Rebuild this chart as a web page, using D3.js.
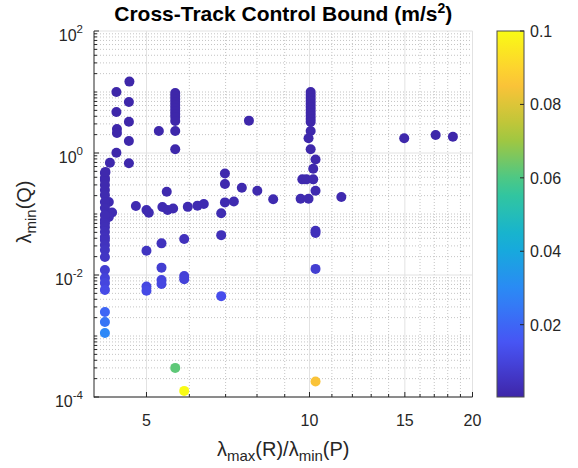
<!DOCTYPE html>
<html><head><meta charset="utf-8">
<script src="https://cdn.jsdelivr.net/npm/d3@7"></script>
<style>body{margin:0;background:#fff} svg{display:block}</style>
</head><body><svg id="c" width="578" height="468"></svg>
<script>
// ---- data ----
const ratioVals = [
  // left column
  4.19,4.19,4.19,4.19,4.19,4.19,4.26,4.19,4.19,4.32,4.26,4.19,4.19,4.19,4.19,4.19,4.19,4.19,4.19,4.19,4.19,4.19,4.19,4.19,4.19,4.19,4.19,4.19,
  // upper-left diagonal
  4.20,4.28,4.40,4.64,4.64,4.41,4.41,4.64,4.40,4.64,4.40,4.65,
  // column near 5.65
  5.65,5.65,5.65,5.65,5.65,5.65,5.65,5.65,5.65,5.65,5.65,5.27,5.65,
  // middle row
  4.78,5.00,5.05,5.45,5.35,5.47,5.60,5.96,6.21,6.38,6.87,6.98,6.98,6.98,7.25,7.50,8.01,8.57,9.63,9.96,7.73,
  // lower group
  5.87,5.33,5.00,5.33,5.33,5.33,5.87,5.87,5.00,5.00,6.87,6.87,5.65,5.87,10.26,
  // column near 10
  10.05,10.05,10.05,10.05,10.05,10.05,10.05,10.05,10.05,10.05,10.05,10.05,9.96,10.05,10.26,10.16,9.70,9.87,10.16,10.26,11.45,10.26,10.26,10.26,
  // far right
  14.96,17.1,18.4
];
const lambdaQVals = [
  0.47,0.39,0.36,0.30,0.247,0.205,0.157,0.157,0.125,0.106,0.089,0.080,0.096,0.071,0.0615,0.051,0.042,0.0375,0.031,0.0257,0.0197,0.0121,0.0089,0.0074,0.0057,0.00247,0.0017,0.00112,
  0.49,0.69,1.01,0.68,1.57,2.47,2.13,3.26,4.7,6.86,10.0,14.8,
  9.6,8.6,7.67,6.85,6.12,5.47,4.89,4.36,3.89,3.35,2.3,2.3,1.15,
  0.135,0.116,0.105,0.232,0.13,0.116,0.123,0.131,0.137,0.146,0.103,0.46,0.31,0.155,0.16,0.27,0.24,0.174,0.178,0.178,3.39,
  0.039,0.033,0.025,0.0132,0.0083,0.0071,0.0096,0.0085,0.0065,0.0055,0.045,0.0045,0.0003,0.000126,0.00018,
  10.0,8.93,7.97,7.11,6.35,5.68,5.07,4.53,4.04,3.61,3.22,2.3,1.74,1.15,0.78,0.55,0.37,0.37,0.37,0.24,0.19,0.053,0.049,0.0126,
  1.74,1.97,1.85
];
const boundVals = [
  0.0012,0.0013,0.0014,0.0015,0.0016,0.0018,0.002,0.002,0.0022,0.0023,0.0025,0.0027,0.0025,0.003,0.0032,0.0035,0.004,0.004,0.0045,0.005,0.0055,0.008,0.0095,0.0105,0.012,0.02,0.024,0.029,
  0.0012,0.001,0.0009,0.001,0.0008,0.0007,0.0007,0.0007,0.0006,0.0006,0.0005,0.0005,
  0.0005,0.0005,0.0005,0.0005,0.0005,0.0006,0.0006,0.0006,0.0006,0.0007,0.0008,0.0008,0.0009,
  0.002,0.002,0.002,0.0015,0.002,0.002,0.002,0.002,0.002,0.002,0.0022,0.0012,0.0014,0.0018,0.0018,0.0015,0.0015,0.0018,0.0018,0.0018,0.0006,
  0.004,0.0042,0.005,0.008,0.01,0.011,0.009,0.0095,0.011,0.012,0.0035,0.013,0.062,0.1,0.085,
  0.0005,0.0005,0.0005,0.0005,0.0005,0.0006,0.0006,0.0006,0.0006,0.0007,0.0007,0.0008,0.0009,0.0009,0.0011,0.0012,0.0014,0.0014,0.0014,0.0016,0.0017,0.0035,0.0036,0.008,
  0.0008,0.0007,0.0007
];
const xTickVals = [5, 10, 15, 20];
const yTickExps = [-4, -2, 0, 2];
const cTickVals = [0.02, 0.04, 0.06, 0.08, 0.1];
const parulaStops = ["#3e26a8","#4852f4","#2d87f7","#12b1d6","#37c897","#abc739","#fec338","#f9fb15"];

// ---- layout ----
const L = 94, R = 472.5, T = 31, B = 397;
const svg = d3.select("#c");
const font = "'Liberation Sans', Arial, Helvetica, sans-serif";
const ink = "#262626";

const x = d3.scaleLog().domain([4, 20]).range([L, R]);
const y = d3.scaleLog().domain([1e-4, 1e2]).range([B, T]);
const cDomain = [0.0003, 0.1];
const color = d3.scaleSequential(d3.piecewise(d3.interpolateRgb, parulaStops)).domain(cDomain);

// grid
const xMinor = d3.range(6, 20).filter(v => !xTickVals.includes(v));
const yMajor = yTickExps.map(e => Math.pow(10, e));
const yMinor = [];
for (let k = -4; k < 2; k++) for (let m = 1; m <= 9; m++) {
  const v = m * Math.pow(10, k);
  if (!yMajor.some(t => Math.abs(t - v) / v < 1e-9)) yMinor.push(v);
}
const g = svg.append("g");
g.selectAll(".xmin").data(xMinor).join("line")
  .attr("x1", d => x(d)).attr("x2", d => x(d)).attr("y1", T).attr("y2", B)
  .attr("stroke", "#c4c4c4").attr("stroke-width", 1).attr("stroke-dasharray", "1,2");
g.selectAll(".ymin").data(yMinor).join("line")
  .attr("y1", d => y(d)).attr("y2", d => y(d)).attr("x1", L).attr("x2", R)
  .attr("stroke", "#c4c4c4").attr("stroke-width", 1).attr("stroke-dasharray", "1,2");
g.selectAll(".xmaj").data(xTickVals).join("line")
  .attr("x1", d => x(d)).attr("x2", d => x(d)).attr("y1", T).attr("y2", B)
  .attr("stroke", "#e2e2e2").attr("stroke-width", 1);
g.selectAll(".ymaj").data(yMajor).join("line")
  .attr("y1", d => y(d)).attr("y2", d => y(d)).attr("x1", L).attr("x2", R)
  .attr("stroke", "#e2e2e2").attr("stroke-width", 1);

// points
const pts = ratioVals.map((v, i) => ({x: v, y: lambdaQVals[i], c: boundVals[i]}));
svg.append("g").selectAll("circle").data(pts).join("circle")
  .attr("cx", d => x(d.x)).attr("cy", d => y(d.y)).attr("r", 5)
  .attr("fill", d => color(d.c));

// axes lines
const ax = svg.append("g").attr("stroke", ink).attr("stroke-width", 1);
ax.append("line").attr("x1", L).attr("x2", L).attr("y1", T).attr("y2", B + 0.5);
ax.append("line").attr("x1", L).attr("x2", R).attr("y1", B).attr("y2", B);
ax.selectAll(".xt").data(xTickVals).join("line")
  .attr("x1", d => x(d)).attr("x2", d => x(d)).attr("y1", B).attr("y2", B - 5);
ax.selectAll(".xtm").data(xMinor).join("line")
  .attr("x1", d => x(d)).attr("x2", d => x(d)).attr("y1", B).attr("y2", B - 3);
ax.selectAll(".yt").data(yMajor).join("line")
  .attr("y1", d => y(d)).attr("y2", d => y(d)).attr("x1", L).attr("x2", L + 5);
ax.selectAll(".ytm").data(yMinor).join("line")
  .attr("y1", d => y(d)).attr("y2", d => y(d)).attr("x1", L).attr("x2", L + 3);

// tick labels
svg.append("g").selectAll("text").data(xTickVals).join("text")
  .attr("x", d => x(d)).attr("y", 426).attr("text-anchor", "middle")
  .attr("font-family", font).attr("font-size", 16).attr("fill", ink)
  .text(d => d);
const yl = svg.append("g").selectAll("text").data(yTickExps).join("text")
  .attr("x", 83).attr("y", d => y(Math.pow(10, d)) + 10).attr("text-anchor", "end")
  .attr("font-family", font).attr("font-size", 16).attr("fill", ink);
yl.append("tspan").text("10");
yl.append("tspan").attr("dy", -8).attr("font-size", 11.5).text(d => d);

// axis labels
const xlab = svg.append("text").attr("x", (L + R) / 2).attr("y", 456).attr("text-anchor", "middle")
  .attr("font-family", font).attr("font-size", 20).attr("fill", ink);
xlab.append("tspan").text("λ");
xlab.append("tspan").attr("dy", 5).attr("font-size", 15).text("max");
xlab.append("tspan").attr("dy", -5).text("(R)/λ");
xlab.append("tspan").attr("dy", 5).attr("font-size", 15).text("min");
xlab.append("tspan").attr("dy", -5).text("(P)");

const ylab = svg.append("text").attr("transform", `translate(31,${(T + B) / 2 - 2}) rotate(-90)`)
  .attr("text-anchor", "middle").attr("font-family", font).attr("font-size", 20).attr("fill", ink);
ylab.append("tspan").text("λ");
ylab.append("tspan").attr("dy", 5).attr("font-size", 15).text("min");
ylab.append("tspan").attr("dy", -5).text("(Q)");

// title
const title = svg.append("text").attr("x", (L + R) / 2).attr("y", 21).attr("text-anchor", "middle")
  .attr("font-family", font).attr("font-size", 21).attr("font-weight", "bold").attr("fill", "#000");
title.append("tspan").text("Cross-Track Control Bound (m/s");
title.append("tspan").attr("dy", -8).attr("font-size", 14).text("2");
title.append("tspan").attr("dy", 8).text(")");

// colorbar
const CL = 497, CR = 524;
const cy = d3.scaleLinear().domain(cDomain).range([B, T]);
const defs = svg.append("defs");
const grad = defs.append("linearGradient").attr("id", "cbg").attr("x1", 0).attr("x2", 0).attr("y1", 1).attr("y2", 0);
d3.range(0, 1.0001, 0.05).forEach(t => grad.append("stop").attr("offset", t)
  .attr("stop-color", d3.piecewise(d3.interpolateRgb, parulaStops)(t)));
svg.append("rect").attr("x", CL).attr("y", T).attr("width", CR - CL).attr("height", B - T)
  .attr("fill", "url(#cbg)").attr("stroke", "#4d4d4d").attr("stroke-width", 1);
svg.append("g").selectAll("line").data(cTickVals).join("line")
  .attr("x1", CR - 4).attr("x2", CR).attr("y1", d => cy(d)).attr("y2", d => cy(d))
  .attr("stroke", ink).attr("stroke-width", 1);
svg.append("g").selectAll("text").data(cTickVals).join("text")
  .attr("x", 530).attr("y", d => cy(d) + 6).attr("font-family", font).attr("font-size", 16)
  .attr("fill", ink).text(d => d);
</script></body></html>
